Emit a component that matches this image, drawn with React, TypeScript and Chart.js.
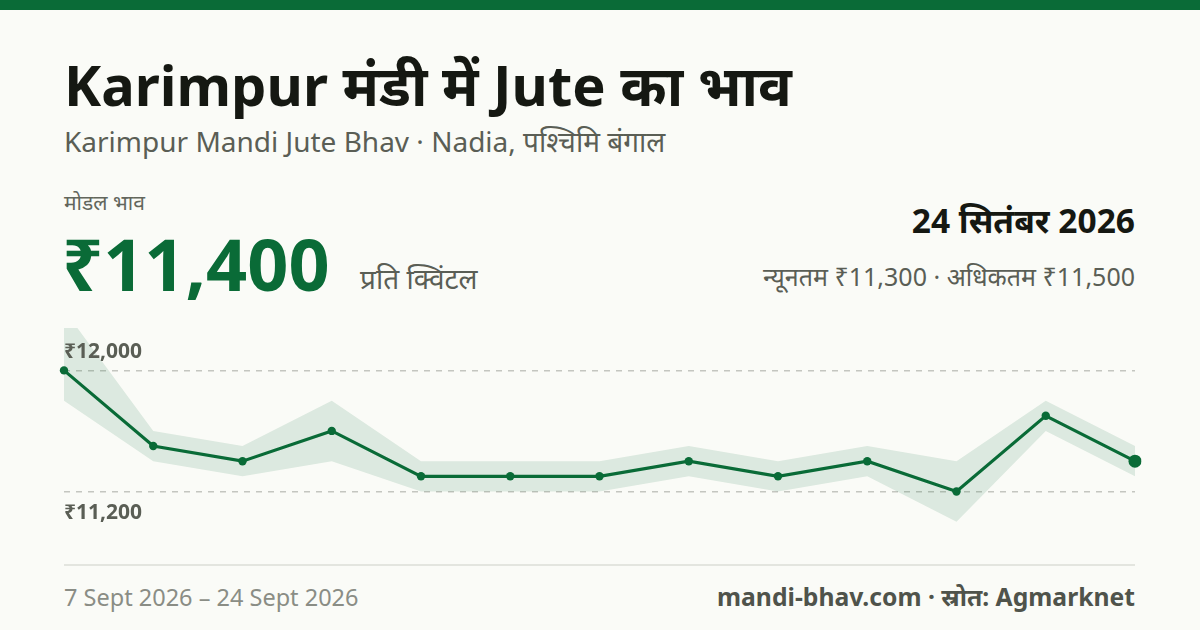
import React, { useRef, useEffect } from "react";
import { Chart, registerables } from "chart.js";

Chart.register(...registerables);

const dates = [
  "7 Sept", "8 Sept", "9 Sept", "10 Sept", "11 Sept", "12 Sept", "14 Sept",
  "15 Sept", "16 Sept", "17 Sept", "19 Sept", "21 Sept", "24 Sept",
];
const modalPrice = [12000, 11500, 11400, 11600, 11300, 11300, 11300, 11400, 11300, 11400, 11200, 11700, 11400];
const minPrice = [11800, 11400, 11300, 11400, 11200, 11200, 11200, 11300, 11200, 11300, 11000, 11600, 11300];
const maxPrice = [12400, 11600, 11500, 11800, 11400, 11400, 11400, 11500, 11400, 11500, 11400, 11800, 11500];
const tickValues = [11200, 12000];
const tickLabels = ["₹11,200", "₹12,000"];

const GREEN = "#0a6b37";
const FONT = "'Noto Sans', 'Open Sans', sans-serif";

// draws the two price labels next to the dashed gridlines
const priceLabels = {
  id: "priceLabels",
  afterDraw(chart: Chart) {
    const { ctx, chartArea } = chart;
    const y = chart.scales.y;
    ctx.save();
    ctx.font = `bold 21px ${FONT}`;
    ctx.fillStyle = "#5a5e55";
    ctx.textBaseline = "middle";
    ctx.textAlign = "left";
    tickValues.forEach((v, i) => {
      const py = y.getPixelForValue(v);
      const above = v === Math.max(...tickValues);
      ctx.fillText(tickLabels[i], chartArea.left, above ? py - 18 : py + 22);
    });
    ctx.restore();
  },
};

const PriceChart: React.FC = () => {
  const chartRef = useRef<HTMLCanvasElement | null>(null);
  const chartInstanceRef = useRef<Chart | null>(null);

  useEffect(() => {
    if (!chartRef.current) return;
    const ctx = chartRef.current.getContext("2d");
    if (!ctx) return;
    const last = modalPrice.length - 1;
    chartInstanceRef.current = new Chart(ctx, {
      type: "line",
      data: {
        labels: dates,
        datasets: [
          {
            label: "max",
            data: maxPrice,
            borderWidth: 0,
            pointRadius: 0,
            fill: "+1",
            backgroundColor: "rgba(10, 107, 55, 0.12)",
            tension: 0,
          },
          {
            label: "min",
            data: minPrice,
            borderWidth: 0,
            pointRadius: 0,
            fill: false,
            tension: 0,
          },
          {
            label: "modal",
            data: modalPrice,
            borderColor: GREEN,
            borderWidth: 3.2,
            backgroundColor: GREEN,
            pointBackgroundColor: GREEN,
            pointBorderWidth: 0,
            pointRadius: modalPrice.map((_, i) => (i === last ? 6.5 : 4.2)),
            fill: false,
            tension: 0,
          },
        ],
      },
      options: {
        animation: false,
        responsive: false,
        maintainAspectRatio: false,
        layout: { padding: { left: 24, right: 25, top: 28, bottom: 8 } },
        scales: {
          x: { display: false, offset: false },
          y: {
            display: true,
            min: 10800,
            max: 12280,
            afterBuildTicks: (axis) => {
              axis.ticks = tickValues.map((v) => ({ value: v }));
            },
            ticks: { display: false },
            border: { display: false, dash: [6, 6] },
            grid: {
              drawTicks: false,
              color: "#c4c6c0",
              lineWidth: 1.5,
            },
          },
        },
        plugins: {
          legend: { display: false },
          tooltip: { enabled: false },
        },
      },
      plugins: [priceLabels],
    });

    return () => {
      if (chartInstanceRef.current) {
        chartInstanceRef.current.destroy();
      }
    };
  }, []);

  return (
    <div style={{ position: "absolute", left: 40, top: 300, width: 1120, height: 260 }}>
      <canvas ref={chartRef} width={1120} height={260} style={{ width: 1120, height: 260 }}></canvas>
    </div>
  );
};

const App: React.FC = () => {
  return (
    <div
      style={{
        position: "fixed",
        left: 0,
        top: 0,
        width: 1200,
        height: 630,
        background: "#fafbf7",
        fontFamily: FONT,
        overflow: "hidden",
      }}
    >
      <div style={{ position: "absolute", left: 0, top: 0, width: 1200, height: 10, background: GREEN }} />
      <div
        style={{
          position: "absolute",
          left: 64,
          top: 46,
          fontSize: 56,
          fontWeight: 700,
          color: "#151812",
          lineHeight: "76px",
          whiteSpace: "nowrap",
        }}
      >
        Karimpur मंडी में Jute का भाव
      </div>
      <div
        style={{ position: "absolute", left: 64, top: 122, fontSize: 28, color: "#5a5e55", lineHeight: "38px", whiteSpace: "nowrap" }}
      >
        Karimpur Mandi Jute Bhav · Nadia, पश्चिमि बंगाल
      </div>
      <div
        style={{ position: "absolute", left: 64, top: 187, fontSize: 21, color: "#62665c", lineHeight: "30px" }}
      >
        मोडल भाव
      </div>
      <div
        style={{
          position: "absolute",
          left: 62,
          top: 218,
          fontSize: 72,
          fontWeight: 700,
          color: GREEN,
          lineHeight: "90px",
          whiteSpace: "nowrap",
        }}
      >
        ₹11,400
      </div>
      <div
        style={{ position: "absolute", left: 360, top: 260, fontSize: 28, color: "#5a5e55", lineHeight: "36px", whiteSpace: "nowrap" }}
      >
        प्रति क्विंटल
      </div>
      <div
        style={{
          position: "absolute",
          right: 65,
          top: 198,
          fontSize: 33.5,
          fontWeight: 700,
          color: "#151812",
          lineHeight: "44px",
          whiteSpace: "nowrap",
        }}
      >
        24 सितंबर 2026
      </div>
      <div
        style={{ position: "absolute", right: 65, top: 259, fontSize: 25, color: "#5a5e55", lineHeight: "34px", whiteSpace: "nowrap" }}
      >
        न्यूनतम ₹11,300 · अधिकतम ₹11,500
      </div>
      <PriceChart />
      <div style={{ position: "absolute", left: 64, top: 564, width: 1071, height: 2, background: "#e3e5df" }} />
      <div
        style={{ position: "absolute", left: 64, top: 581, fontSize: 23.5, color: "#8a8d85", lineHeight: "32px", whiteSpace: "nowrap" }}
      >
        7 Sept 2026 – 24 Sept 2026
      </div>
      <div
        style={{
          position: "absolute",
          right: 65,
          top: 581,
          fontSize: 24.7,
          fontWeight: 700,
          color: "#4f534b",
          lineHeight: "32px",
          whiteSpace: "nowrap",
        }}
      >
        mandi-bhav.com · स्रोत: Agmarknet
      </div>
    </div>
  );
};

export default App;
